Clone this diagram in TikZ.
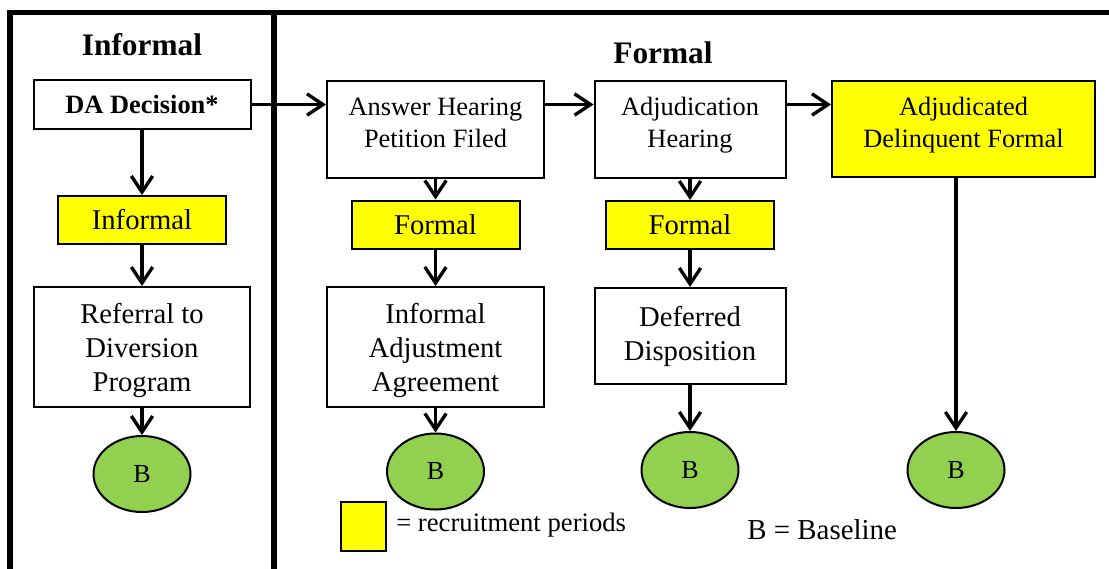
\documentclass[tikz,border=0pt]{standalone}
\usepackage{fontspec}
\setmainfont{Liberation Serif}
\usetikzlibrary{arrows.meta,shapes.geometric}
\definecolor{recyellow}{HTML}{FFFF00}
\definecolor{basegreen}{HTML}{92D050}

\begin{document}
\begin{tikzpicture}[
        x=0.75pt, y=-0.75pt,
        every node/.style={align=center, inner sep=0pt},
        box/.style={draw, line width=1.5pt, fill=white},
        recbox/.style={box, fill=recyellow},
        base/.style={ellipse, draw, line width=1.5pt, fill=basegreen,
            minimum width=72.75pt, minimum height=57pt, font=\fontsize{19.5}{23}\selectfont},
        arr/.style={line width=2.5pt, -{Straight Barb[length=12pt,width=16pt]}},
        frame/.style={line width=3.8pt},
    ]
    \tikzstyle{bigtxt}=[font=\fontsize{21.5}{25.5}\selectfont]
    \tikzstyle{midtxt}=[font=\fontsize{19.8}{24}\selectfont]
    \tikzstyle{title}=[font=\bfseries\fontsize{23.5}{28}\selectfont, anchor=base]
    \useasboundingbox (0,0) rectangle (1109,568);
    % frame
    \draw[frame] (10,572) -- (10,12.5) -- (1115,12.5);
    \draw[frame] (274,12.5) -- (274,572);
    % titles
    \node[title] (tinf) at (142,55) {Informal};
    \node[title] (tfor) at (663,63) {Formal};
    % informal column
    \node[box, font=\bfseries\fontsize{19.8}{24}\selectfont,
        minimum width=162.75pt, minimum height=36.75pt] (da) at (142,104.5) {DA Decision*};
    \node[recbox, bigtxt, minimum width=126pt, minimum height=36pt] (inf) at (142,220) {Informal};
    \node[box, bigtxt, text depth=-1.3pt, minimum width=162pt, minimum height=90pt] (ref) at (142,347)
        {Referral to\\Diversion\\Program};
    \node[base] (b1) at (142,474) {B};
    % formal columns
    \node[box, midtxt, text depth=10pt, minimum width=162.75pt, minimum height=72.75pt] (ans) at (435.5,129.5)
        {Answer Hearing\\Petition Filed};
    \node[recbox, bigtxt, minimum width=126pt, minimum height=36pt] (f1) at (435.5,224.5) {Formal};
    \node[box, bigtxt, text depth=-1.3pt, minimum width=162.75pt, minimum height=90pt] (iaa) at (435.5,347)
        {Informal\\Adjustment\\Agreement};
    \node[base] (b2) at (435.5,471.5) {B};
    \node[box, midtxt, text depth=10pt, minimum width=143.25pt, minimum height=72.75pt] (adj) at (690,129.5)
        {Adjudication\\Hearing};
    \node[recbox, bigtxt, minimum width=126pt, minimum height=36pt] (f2) at (690,225) {Formal};
    \node[box, bigtxt, minimum width=143.25pt, minimum height=72pt] (def) at (690,336)
        {Deferred\\Disposition};
    \node[base] (b3) at (690,470) {B};
    \node[recbox, midtxt, text depth=10pt, minimum width=197.25pt, minimum height=72pt] (dlq) at (963.5,129)
        {Adjudicated\\Delinquent Formal};
    \node[base] (b4) at (956,470) {B};
    % legend
    \node[recbox, minimum width=33.75pt, minimum height=36.75pt] (key) at (363.5,526.5) {};
    \node[anchor=base west, font=\fontsize{20}{24}\selectfont] (keytxt) at (396,531)
        {= recruitment periods};
    \node[anchor=base west, font=\fontsize{21.7}{26}\selectfont] (btxt) at (747,539)
        {B = Baseline};
    % connectors
    \draw[arr] (da) -- (inf);
    \draw[arr] (inf) -- (ref);
    \draw[arr] (ref) -- (b1);
    \draw[arr] (da.east) -- (ans.west |- da.east);
    \draw[arr] (ans) -- (f1);
    \draw[arr] (f1) -- (iaa);
    \draw[arr] (iaa) -- (b2);
    \draw[arr] (ans.east |- da.east) -- (adj.west |- da.east);
    \draw[arr] (adj) -- (f2);
    \draw[arr] (f2) -- (def);
    \draw[arr] (def) -- (b3);
    \draw[arr] (adj.east |- da.east) -- (dlq.west |- da.east);
    \draw[arr] (b4 |- dlq.south) -- (b4);
\end{tikzpicture}
\end{document}
